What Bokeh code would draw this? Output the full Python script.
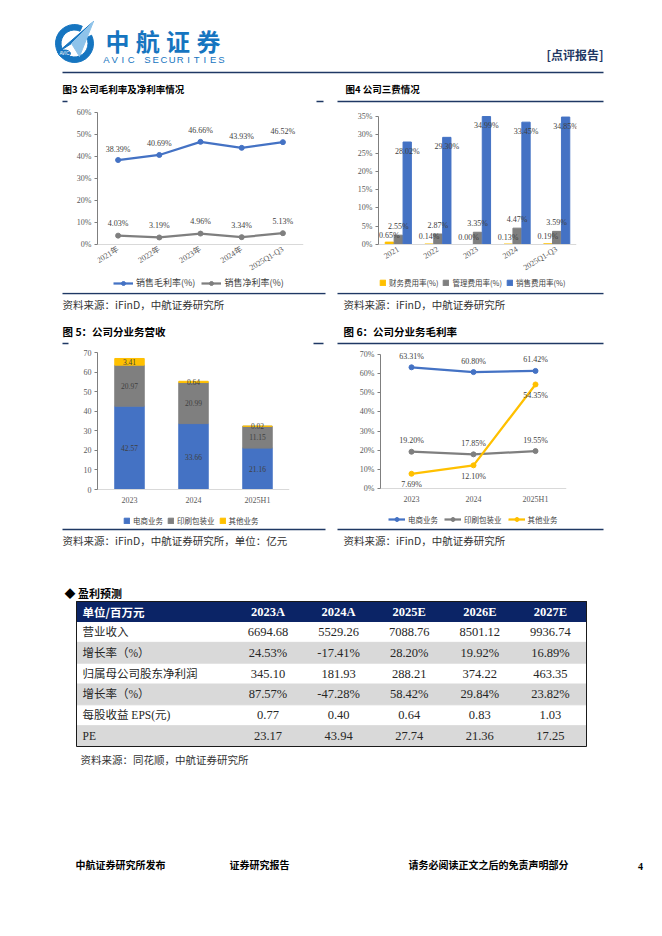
from bokeh.plotting import figure
from bokeh.models import Range1d, FactorRange, FixedTicker, Legend, LegendItem, ColumnDataSource
from bokeh.layouts import column, row
from bokeh.embed import file_html
from bokeh.resources import INLINE
from bokeh.core.properties import value
from bokeh.transform import dodge

# ---------------- data ----------------
margin_years = ["2021年", "2022年", "2023年", "2024年", "2025Q1-Q3"]
gross_margin = [38.39, 40.69, 46.66, 43.93, 46.52]
net_margin = [4.03, 3.19, 4.96, 3.34, 5.13]
margin_ticks = [0, 10, 20, 30, 40, 50, 60]

fee_years = ["2021", "2022", "2023", "2024", "2025Q1-Q3"]
fin_fee = [0.65, 0.14, 0.00, 0.13, 0.19]
mgmt_fee = [2.55, 2.87, 3.35, 4.47, 3.59]
sales_fee = [28.02, 29.30, 34.99, 33.45, 34.85]
fee_ticks = [0, 5, 10, 15, 20, 25, 30, 35]

seg_years = ["2023", "2024", "2025H1"]
ecom_rev = [42.57, 33.66, 21.16]
print_rev = [20.97, 20.99, 11.15]
other_rev = [3.41, 0.64, 0.02]
rev_ticks = [0, 10, 20, 30, 40, 50, 60, 70]

ecom_gm = [63.31, 60.80, 61.42]
print_gm = [19.20, 17.85, 19.55]
other_gm = [7.69, 12.10, 54.35]
gm_ticks = [0, 10, 20, 30, 40, 50, 60, 70]

table_header = ["单位/百万元", "2023A", "2024A", "2025E", "2026E", "2027E"]
row_labels = ["营业收入", "增长率（%）", "归属母公司股东净利润", "增长率（%）", "每股收益 EPS(元)", "PE"]
revenue = [6694.68, 5529.26, 7088.76, 8501.12, 9936.74]
revenue_growth = [24.53, -17.41, 28.20, 19.92, 16.89]
net_profit = [345.10, 181.93, 288.21, 374.22, 463.35]
profit_growth = [87.57, -47.28, 58.42, 29.84, 23.82]
eps = [0.77, 0.40, 0.64, 0.83, 1.03]
pe = [23.17, 43.94, 27.74, 21.36, 17.25]

# ---------------- styles ----------------
CJK = "Noto Sans CJK SC"
SERIF = "Liberation Serif"
MIX = "Liberation Serif, Noto Sans CJK SC"
BLUE = "#4472C4"
GRAY = "#7F7F7F"
YELLOW = "#FFC000"
NAVY = "#1F3864"
TNAVY = "#0B2466"
LOGO = "#1675C0"
PAGE_W = 654


def deco(y_top, y_bot):
    p = figure(width=PAGE_W, height=y_bot - y_top, x_range=Range1d(0, PAGE_W),
               y_range=Range1d(y_bot, y_top), output_backend="svg",
               toolbar_location=None, x_axis_location=None, y_axis_location=None,
               min_border_left=0, min_border_right=0, min_border_top=0, min_border_bottom=0)
    p.outline_line_color = None
    p.grid.visible = False
    return p


def txt(p, x, y, s, size, font=CJK, color="#000000", bold=False, align="left"):
    p.text(x=[x], y=[y], text=[s], text_font=value(font), text_font_size=f"{size}px",
           text_color=color, text_font_style="bold" if bold else "normal",
           text_align=align, text_baseline="middle")


def seg(p, x0, y0, x1, y1, color=NAVY, w=1.3):
    p.segment(x0=[x0], y0=[y0], x1=[x1], y1=[y1], line_color=color, line_width=w)


def chart(width, height, factors, bl, br, top_px, zero_px, top_val, ticks, pct):
    ppu = (zero_px - top_px) / top_val
    y_range = Range1d(-(height - zero_px) / ppu, top_val + top_px / ppu)
    p = figure(width=width, height=height, x_range=FactorRange(*factors), y_range=y_range,
               output_backend="svg", toolbar_location=None,
               min_border_left=bl, min_border_right=br, min_border_top=0, min_border_bottom=0)
    p.outline_line_color = None
    p.grid.visible = False
    p.xaxis.fixed_location = 0
    p.xaxis.axis_line_color = "#D9D9D9"
    p.xaxis.major_tick_line_color = None
    p.xaxis.major_tick_out = 0
    p.xaxis.major_tick_in = 0
    p.xaxis.minor_tick_line_color = None
    p.xaxis.major_label_standoff = 6
    p.xaxis.major_label_text_font = MIX
    p.xaxis.major_label_text_font_size = "8px"
    p.xaxis.major_label_text_color = "#595959"
    p.yaxis.bounds = (0, top_val)
    p.yaxis.axis_line_color = "#7F7F7F"
    p.yaxis.major_tick_line_color = "#7F7F7F"
    p.yaxis.major_tick_out = 3
    p.yaxis.major_tick_in = 0
    p.yaxis.minor_tick_line_color = None
    p.yaxis.major_label_text_font = SERIF
    p.yaxis.major_label_text_font_size = "8px"
    p.yaxis.major_label_text_color = "#595959"
    p.yaxis.major_label_standoff = 3
    p.yaxis.ticker = FixedTicker(ticks=ticks)
    p.yaxis.major_label_overrides = {t: (f"{t}%" if pct else f"{t}") for t in ticks}
    return p


def add_legend(p, items, font_size, gw, gh, spacing, loc):
    lg = Legend(items=items, orientation="horizontal", location=loc,
                label_text_font=CJK, label_text_font_size=f"{font_size}px",
                label_text_color="#404040", glyph_width=gw, glyph_height=gh,
                label_height=12, label_standoff=3, spacing=spacing,
                padding=0, margin=0, border_line_color=None, background_fill_alpha=0)
    p.add_layout(lg, "center")


def vlabels(p, x, y, vals, off, fmt, size="8px", color="#404040"):
    p.text(x=x, y=y, text=[fmt.format(v) for v in vals], y_offset=off,
           text_align="center", text_baseline="middle", text_font=value(SERIF),
           text_font_size=size, text_color=color)


# ---------------- header ----------------
hdr = deco(0, 106)
hdr.annular_wedge(x=[74], y=[43], inner_radius=13.5, outer_radius=19, start_angle=1.15,
                  end_angle=0.45, direction="anticlock", color=LOGO)
hdr.patch(x=[57, 93, 71], y=[52, 21, 43], color=LOGO)
hdr.patch(x=[71, 93, 79], y=[43, 21, 56], color="#8EC3EA")
hdr.ellipse(x=[64], y=[53], width=12, height=7, color=LOGO)
txt(hdr, 64, 53, "AVIC", 4.5, font="Liberation Sans", color="white", align="center")
for i, ch in enumerate("中航证券"):
    txt(hdr, 117 + 30.3 * i, 40, ch, 24, color=LOGO, bold=True, align="center")
for i, ch in enumerate("AVIC SECURITIES"):
    txt(hdr, 106 + 8.2 * i, 58.5, ch, 9.5, font="Liberation Sans", color=LOGO, align="center")
txt(hdr, 603, 54, "[点评报告]", 12, color=NAVY, bold=True, align="right")
seg(hdr, 62, 72, 603, 72)
txt(hdr, 62, 88, "图3  公司毛利率及净利率情况", 9.5, bold=True)
txt(hdr, 345, 88, "图4  公司三费情况", 9.5, bold=True)
seg(hdr, 62, 101, 67, 101)
seg(hdr, 316, 101, 323, 101)
seg(hdr, 337, 101, 603, 101)

# ---------------- fig 3 ----------------
f3 = chart(331, 186, margin_years, 97, 28, 6, 138, 60, margin_ticks, True)
f3.xaxis.major_label_orientation = 0.55
f3.xaxis.major_label_standoff = 4
l1 = f3.line(margin_years, gross_margin, line_color=BLUE, line_width=2.25)
s1 = f3.scatter(margin_years, gross_margin, size=5, color=BLUE)
l2 = f3.line(margin_years, net_margin, line_color=GRAY, line_width=2.25)
s2 = f3.scatter(margin_years, net_margin, size=5, color=GRAY)
vlabels(f3, margin_years, gross_margin, gross_margin, -11, "{:.2f}%")
vlabels(f3, margin_years, net_margin, net_margin, -12, "{:.2f}%")
add_legend(f3, [LegendItem(label="销售毛利率(%)", renderers=[l1, s1]),
                LegendItem(label="销售净利率(%)", renderers=[l2, s2])], 9, 20, 10, 6, (16, 3))

# ---------------- fig 4 ----------------
f4 = chart(323, 186, fee_years, 47, 78, 10, 138, 35, fee_ticks, True)
f4.xaxis.major_label_orientation = 0.55
f4.xaxis.major_label_standoff = 4
src4 = ColumnDataSource(dict(year=fee_years, fin=fin_fee, mgmt=mgmt_fee, sales=sales_fee))
b1 = f4.vbar(x=dodge("year", -0.225, range=f4.x_range), top="fin", width=0.21, color=YELLOW, source=src4)
b2 = f4.vbar(x=dodge("year", 0.0, range=f4.x_range), top="mgmt", width=0.21, color=GRAY, source=src4)
b3 = f4.vbar(x=dodge("year", 0.225, range=f4.x_range), top="sales", width=0.21, color=BLUE, source=src4)
for col, vals, off, dx in (("fin", fin_fee, -7, -0.225), ("mgmt", mgmt_fee, -9, 0.0), ("sales", sales_fee, 9, 0.225)):
    s = ColumnDataSource(dict(year=fee_years, v=vals, t=[f"{v:.2f}%" for v in vals]))
    f4.text(x=dodge("year", dx, range=f4.x_range), y="v", text="t", y_offset=off, source=s,
            text_align="center", text_baseline="middle", text_font=value(SERIF),
            text_font_size="8px", text_color="#404040")
add_legend(f4, [LegendItem(label="财务费用率(%)", renderers=[b1]),
                LegendItem(label="管理费用率(%)", renderers=[b2]),
                LegendItem(label="销售费用率(%)", renderers=[b3])], 7.5, 7, 7, 4, (1, 4))

# ---------------- middle strip ----------------
mid = deco(292, 346)
seg(mid, 62, 293, 325, 293)
seg(mid, 337, 293, 603, 293)
txt(mid, 62, 303.5, "资料来源：iFinD，中航证券研究所", 10.5, color="#333333")
txt(mid, 343, 303.5, "资料来源：iFinD，中航证券研究所", 10.5, color="#333333")
txt(mid, 62, 331, "图 5：公司分业务营收", 10.5, bold=True)
txt(mid, 343, 331, "图 6：公司分业务毛利率", 10.5, bold=True)
seg(mid, 62, 343, 68, 343)
seg(mid, 313, 343, 323, 343)
seg(mid, 337, 343, 603, 343)

# ---------------- fig 5 ----------------
f5 = chart(331, 181, seg_years, 97, 42, 6, 143, 70, rev_ticks, False)
src5 = ColumnDataSource(dict(year=seg_years, ecom=ecom_rev, prt=print_rev, oth=other_rev))
stack = f5.vbar_stack(["ecom", "prt", "oth"], x="year", width=0.46, color=[BLUE, GRAY, YELLOW], source=src5)
base = [0.0] * len(seg_years)
for vals in (ecom_rev, print_rev, other_rev):
    mids = [b + v / 2 for b, v in zip(base, vals)]
    vlabels(f5, seg_years, mids, vals, 0, "{:.2f}", size="7.5px")
    base = [b + v for b, v in zip(base, vals)]
add_legend(f5, [LegendItem(label="电商业务", renderers=[stack[0]]),
                LegendItem(label="印刷包装业", renderers=[stack[1]]),
                LegendItem(label="其他业务", renderers=[stack[2]])], 7.5, 7, 7, 4, (26, 1))

# ---------------- fig 6 ----------------
f6 = chart(323, 181, seg_years, 49, 88, 8, 142, 70, gm_ticks, True)
r = []
for vals, c in ((ecom_gm, BLUE), (print_gm, GRAY), (other_gm, YELLOW)):
    ln = f6.line(seg_years, vals, line_color=c, line_width=2.25)
    sc = f6.scatter(seg_years, vals, size=5, color=c)
    r.append([ln, sc])
vlabels(f6, seg_years, ecom_gm, ecom_gm, -11, "{:.2f}%")
vlabels(f6, seg_years, print_gm, print_gm, -11, "{:.2f}%")
vlabels(f6, seg_years, other_gm, other_gm, 11, "{:.2f}%")
add_legend(f6, [LegendItem(label="电商业务", renderers=r[0]),
                LegendItem(label="印刷包装业", renderers=r[1]),
                LegendItem(label="其他业务", renderers=r[2])], 7.5, 17, 10, 6, (8, 2))

# ---------------- bottom: sources, table, footer ----------------
bot = deco(527, 920)
seg(bot, 62, 529, 325, 529)
seg(bot, 337, 529, 603, 529)
txt(bot, 62, 539.5, "资料来源：iFinD，中航证券研究所，单位：亿元", 10.5, color="#333333")
txt(bot, 343, 539.5, "资料来源：iFinD，中航证券研究所", 10.5, color="#333333")
txt(bot, 64, 592, "◆ 盈利预测", 11, bold=True)

TL, TR, TT, HB = 76, 586, 601, 621
RH = (746 - HB) / 6
col_x = [267.5 + 70.6 * j for j in range(5)]
bot.quad(left=[TL], right=[TR], top=[TT], bottom=[HB], color=TNAVY)
gray_rows = [1, 3, 5]
bot.quad(left=[TL] * 3, right=[TR] * 3, top=[HB + RH * i for i in gray_rows],
         bottom=[HB + RH * (i + 1) for i in gray_rows], color="#D9D9D9")
bot.quad(left=[TL], right=[TR], top=[TT], bottom=[HB + 6 * RH], fill_color=None,
         line_color="#1A1A1A", line_width=1)
txt(bot, 82, (TT + HB) / 2, table_header[0], 11.5, color="white", bold=True)
bot.text(x=col_x, y=[(TT + HB) / 2] * 5, text=table_header[1:], text_font=value(SERIF),
         text_font_size="12.5px", text_font_style="bold", text_color="white",
         text_align="center", text_baseline="middle")
rows_txt = [[f"{v:.2f}" for v in revenue], [f"{v:.2f}%" for v in revenue_growth],
            [f"{v:.2f}" for v in net_profit], [f"{v:.2f}%" for v in profit_growth],
            [f"{v:.2f}" for v in eps], [f"{v:.2f}" for v in pe]]
for i, lab in enumerate(row_labels):
    yc = HB + RH * (i + 0.5)
    txt(bot, 82, yc, lab, 11.5, font=MIX, color="#262626")
    bot.text(x=col_x, y=[yc] * 5, text=rows_txt[i], text_font=value(SERIF),
             text_font_size="12.5px", text_color="#262626", text_align="center",
             text_baseline="middle")
txt(bot, 80, 759, "资料来源：同花顺，中航证券研究所", 10.5, color="#333333")

txt(bot, 75, 864, "中航证券研究所发布", 10, bold=True)
txt(bot, 229, 864, "证券研究报告", 10, bold=True)
txt(bot, 408, 864, "请务必阅读正文之后的免责声明部分", 10, bold=True)
txt(bot, 640, 866, "4", 10, font=SERIF, bold=True, align="center")

page = column(hdr, row(f3, f4), mid, row(f5, f6), bot)
open("out.html", "w").write(file_html(page, INLINE))
